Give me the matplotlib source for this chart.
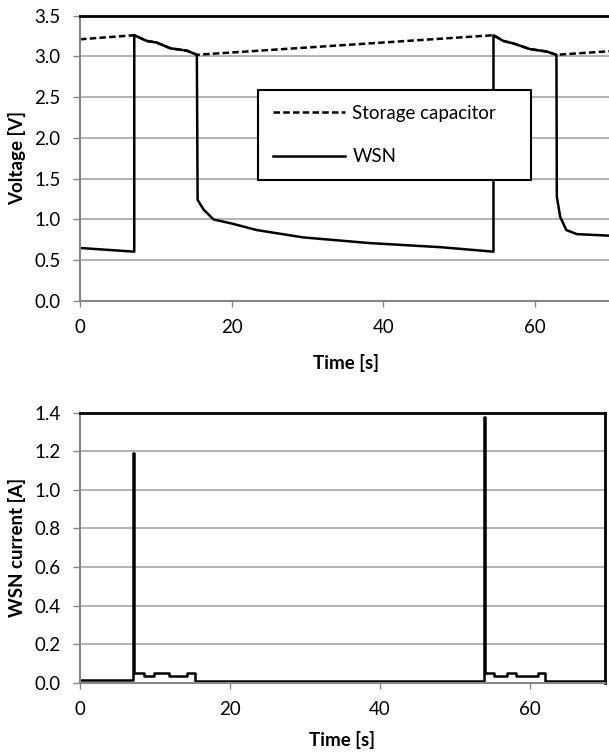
import matplotlib
matplotlib.use("Agg")
import matplotlib.pyplot as plt

plt.rcParams["font.family"] = ["Lato", "DejaVu Sans"]
plt.rcParams["font.size"] = 13

# --- data ---
# storage capacitor voltage
t_cap = [0, 7.15, 8.8, 10.1, 11.9, 14.1, 15.4, 54.5, 55.8, 57.1, 59.3, 61.5, 62.8, 70]
v_cap = [3.21, 3.26, 3.19, 3.17, 3.10, 3.07, 3.02, 3.26, 3.19, 3.16, 3.09, 3.06, 3.02, 3.065]

# WSN voltage
t_wsn = [0, 7.15, 7.15, 8.8, 10.1, 11.9, 14.1, 15.4, 15.5, 16.3, 17.6, 20.0, 23.3,
         29.4, 38.2, 47.5, 54.5, 54.5, 55.8, 57.1, 59.3, 61.5, 62.8, 62.85, 63.3,
         64.1, 65.5, 70]
v_wsn = [0.65, 0.605, 3.26, 3.19, 3.17, 3.10, 3.07, 3.02, 1.24, 1.12, 1.00, 0.95, 0.87,
         0.78, 0.71, 0.66, 0.605, 3.26, 3.19, 3.16, 3.09, 3.06, 3.02, 1.28, 1.03,
         0.87, 0.82, 0.80]

# WSN current (step levels, each held until the next time)
t_cur = [0, 7.15, 7.2, 8.6, 9.9, 11.9, 14.3, 15.3, 53.9, 54.0, 55.2, 56.9, 58.2, 61.1, 62.0, 70]
i_cur = [0.015, 1.19, 0.053, 0.038, 0.053, 0.038, 0.053, 0.008, 1.38, 0.053, 0.038, 0.053,
         0.038, 0.053, 0.008, 0.008]

v_ticks = [0.0, 0.5, 1.0, 1.5, 2.0, 2.5, 3.0, 3.5]
i_ticks = [0.0, 0.2, 0.4, 0.6, 0.8, 1.0, 1.2, 1.4]
t_ticks = [0, 20, 40, 60]

GRID = "#a6a6a6"
AXIS = "#868686"


def style_axes(ax, yticks, fmt, xpad):
    ax.set_xlim(0, 70)
    ax.set_xticks(t_ticks)
    ax.set_yticks(yticks)
    ax.set_ylim(yticks[0], yticks[-1])
    ax.set_yticklabels([fmt % v for v in yticks])
    ax.yaxis.grid(True, color=GRID, lw=1.2)
    ax.set_axisbelow(True)
    for s in ("left", "bottom"):
        ax.spines[s].set_color(AXIS)
        ax.spines[s].set_linewidth(1.5)
    for s in ("top", "right"):
        ax.spines[s].set_color("black")
        ax.spines[s].set_linewidth(2)
    ax.tick_params(axis="y", direction="out", length=5, width=1, color=AXIS, pad=9, labelsize=13.5)
    ax.tick_params(axis="x", direction="out", length=4, width=1, color=AXIS, pad=9, labelsize=13.5)
    ax.set_xlabel("Time [s]", fontweight="bold", fontsize=13.5, labelpad=xpad)


fig = plt.figure(figsize=(6.09, 7.53), dpi=100)
fig.patch.set_facecolor("white")

# 上: 電圧
ax1 = fig.add_axes([0.1314, 0.6003, 0.872, 0.3789])
ax1.plot(t_cap, v_cap, color="black", lw=1.8, dashes=(2.6, 1.3), label="Storage capacitor")
ax1.plot(t_wsn, v_wsn, color="black", lw=1.8, label="WSN")
style_axes(ax1, v_ticks, "%.1f", 13)
ax1.set_ylabel("Voltage [V]", fontweight="bold", fontsize=13.5, labelpad=6)
leg = ax1.legend(loc="upper left", bbox_to_anchor=(0.336, 0.439, 0.513, 0.301), mode="expand",
                 fontsize=13.5, handlelength=3.8, handletextpad=0.4, labelspacing=1.4,
                 borderpad=0.8, fancybox=False, framealpha=1, borderaxespad=0)
leg.get_frame().set_edgecolor("black")
leg.get_frame().set_linewidth(1.5)

# 下: 電流
ax2 = fig.add_axes([0.1309, 0.093, 0.8626, 0.359])
ax2.plot(t_cur, i_cur, color="black", lw=1.8, drawstyle="steps-post")
style_axes(ax2, i_ticks, "%.1f", 9)
ax2.set_ylabel("WSN current [A]", fontweight="bold", fontsize=13.5, labelpad=6)

fig.savefig("out.png", dpi=100, facecolor="white")
